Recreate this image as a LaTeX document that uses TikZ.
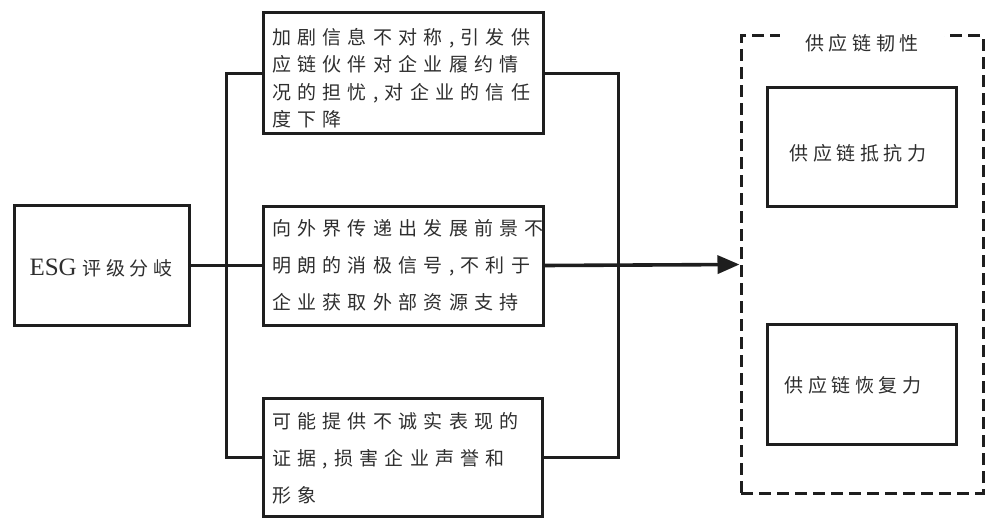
\documentclass[tikz,border=0pt]{standalone}
\usepackage{fontspec}
\usetikzlibrary{arrows.meta}
\newfontfamily\cjk{Noto Sans CJK SC}[LetterSpace=33]
\newfontfamily\cjkb{Noto Sans CJK SC}[LetterSpace=24]
\newfontfamily\serifesg{Liberation Serif}
\definecolor{ink}{HTML}{1E1E1E}
\definecolor{txt}{HTML}{2E2E2E}
\tikzset{
  box/.style={draw=ink, line width=3pt, rectangle, inner sep=0pt},
  conn/.style={draw=ink, line width=3pt},
  bodytext/.style={text=txt, inner sep=0pt, anchor=north west, align=left, font=\cjk\fontsize{19pt}{27.5pt}\selectfont},
  widetext/.style={bodytext, font=\cjk\fontsize{19pt}{37pt}\selectfont},
  ctext/.style={text=txt, inner sep=0pt, font=\cjkb\fontsize{19pt}{23pt}\selectfont},
}
\begin{document}
\begin{tikzpicture}[x=1pt,y=-1pt]
\useasboundingbox (0,0) rectangle (990,519);
% boxes
\node[box, minimum width=175pt, minimum height=120pt] (esg) at (101.5,265.5) {};
\node[box, minimum width=280pt, minimum height=120pt] (b1) at (403,73) {};
\node[box, minimum width=280pt, minimum height=119pt] (b2) at (403,265.5) {};
\node[box, minimum width=279pt, minimum height=118pt] (b3) at (402.5,457) {};
\node[box, minimum width=189pt, minimum height=119pt] (r1) at (861.5,146.5) {};
\node[box, minimum width=189pt, minimum height=120pt] (r2) at (861.5,384) {};
\node[draw=ink, line width=3pt, dash pattern=on 12pt off 6pt, minimum width=242pt, minimum height=457pt, inner sep=0pt] (outer) at (862,264.5) {};
% texts
\node[text=txt, inner sep=0pt] (esgt) at (101,268) {{\serifesg\fontsize{25pt}{28pt}\selectfont ESG}\hspace{6pt}{\cjkb\fontsize{19pt}{23pt}\selectfont 评级分岐}};
\node[bodytext] (t1) at (272,28) {加剧信息不对称,引发供\\应链伙伴对企业履约情\\况的担忧,对企业的信任\\度下降};
\node[widetext] (t2) at (272,219) {向外界传递出发展前景不\\明朗的消极信号,不利于\\企业获取外部资源支持};
\node[widetext] (t3) at (272,412) {可能提供不诚实表现的\\证据,损害企业声誉和\\形象};
\node[ctext] (rt1) at (858,153) {供应链抵抗力};
\node[ctext] (rt2) at (853,385) {供应链恢复力};
\node[ctext, fill=white, inner xsep=25pt, inner ysep=4pt] (title) at (862,43) {供应链韧性};
% connectors
\coordinate (jl) at (226,265.5);
\coordinate (jr) at (618,265.5);
\draw[conn] (b1.west) -| (jl) |- (b3.west);
\draw[conn] (b1.east) -| (jr) |- (b3.east);
\draw[conn, line width=3.6pt] (esg.east) -- (b2.west);
\draw[conn, line width=3.6pt, -{Triangle[length=22pt,width=18pt]}] (b2.east) -- (outer.west);
\end{tikzpicture}
\end{document}
